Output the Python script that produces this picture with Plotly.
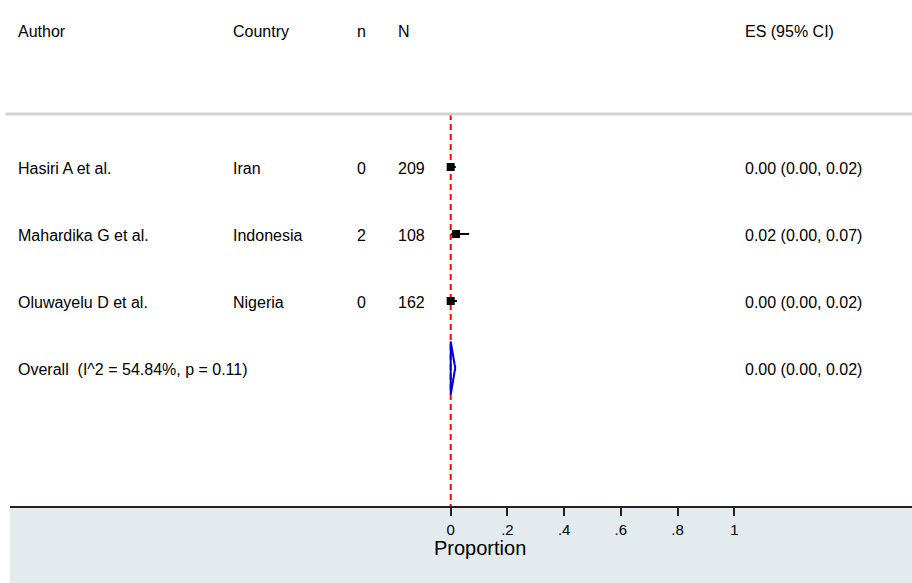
import plotly.graph_objects as go

# ---- data ----
authors = ["Hasiri A et al.", "Mahardika G et al.", "Oluwayelu D et al."]
countries = ["Iran", "Indonesia", "Nigeria"]
n_events = [0, 2, 0]
n_total = [209, 108, 162]
es = [0.0, 0.019, 0.0]
ci_lo = [0.0, 0.002, 0.0]
ci_hi = [0.018, 0.065, 0.022]
overall_label = "Overall\u00a0 (I^2 = 54.84%, p = 0.11)"
overall_es = 0.0
overall_lo = 0.0
overall_hi = 0.016
tick_vals = [0, 0.2, 0.4, 0.6, 0.8, 1]
tick_text = ["0", ".2", ".4", ".6", ".8", "1"]
headers = ["Author", "Country", "n", "N", "ES (95% CI)"]

# ---- layout geometry (pixels) ----
W, H = 912, 583
L, R, T, B = 10, 0, 10, 77
x0_px, x1_px = 450.7, 734.3          # pixel of 0 and 1
ppu = x1_px - x0_px
row0_px, row_step = 167.0, 67.0


def px2x(px):
    return (px - x0_px) / ppu


def py2y(py):
    return (py - row0_px) / row_step


xrange = [px2x(L), px2x(W - R)]
yrange = [py2y(H - B), py2y(T)]

font = "Liberation Sans, Arial, sans-serif"
col_px = [16, 231, 355, 396, 743]
rows = list(range(len(authors)))
overall_row = len(authors)

fig = go.Figure()

# red dashed null line
fig.add_shape(type="line", xref="x", yref="y", x0=0, x1=0,
              y0=py2y(114), y1=py2y(H - B),
              line=dict(color="#ff0000", width=2, dash="6px,4px"), layer="below")

# CI lines
for i in rows:
    fig.add_trace(go.Scatter(x=[ci_lo[i], ci_hi[i]], y=[i, i], mode="lines",
                             line=dict(color="black", width=2),
                             showlegend=False, hoverinfo="skip"))
# point estimates
fig.add_trace(go.Scatter(x=es, y=rows, mode="markers",
                         marker=dict(symbol="square", size=8, color="black"),
                         showlegend=False, hoverinfo="skip"))

# overall diamond
hh = 0.396
fig.add_trace(go.Scatter(
    x=[overall_lo, overall_es, overall_hi, overall_es, overall_lo],
    y=[overall_row, overall_row - hh, overall_row, overall_row + hh, overall_row],
    mode="lines", line=dict(color="#0000cc", width=2),
    showlegend=False, hoverinfo="skip"))

# header separator
fig.add_shape(type="line", xref="paper", yref="y", x0=-0.005, x1=1,
              y0=py2y(114), y1=py2y(114),
              line=dict(color="#d2d2d2", width=3))

# bottom shaded band
fig.add_shape(type="rect", xref="paper", yref="paper", x0=0, x1=1,
              y0=-B / (H - T - B), y1=0, fillcolor="#e3ebee",
              line=dict(width=0), layer="below")

ann = []
# headers
for txt, cx in zip(headers, col_px):
    ann.append(dict(x=px2x(cx), y=py2y(31), text=txt, xref="x", yref="y",
                    xanchor="left", yanchor="middle", showarrow=False,
                    font=dict(family=font, size=16, color="black")))
# rows
for i in rows:
    vals = [authors[i], countries[i], str(n_events[i]), str(n_total[i]),
            f"{es[i]:.2f} ({ci_lo[i]:.2f}, {ci_hi[i]:.2f})"]
    for txt, cx in zip(vals, col_px):
        ann.append(dict(x=px2x(cx), y=i + 0.02, text=txt, xref="x", yref="y",
                        xanchor="left", yanchor="middle", showarrow=False,
                        font=dict(family=font, size=16, color="black")))
# overall row
for txt, cx in [(overall_label, col_px[0]),
                (f"{overall_es:.2f} ({overall_lo:.2f}, {overall_hi:.2f})", col_px[4])]:
    ann.append(dict(x=px2x(cx), y=overall_row + 0.02, text=txt, xref="x", yref="y",
                    xanchor="left", yanchor="middle", showarrow=False,
                    font=dict(family=font, size=16, color="black")))
# axis title
ann.append(dict(x=px2x(480), y=-(548 - (H - B)) / (H - T - B), text="Proportion",
                xref="x", yref="paper", xanchor="center", yanchor="middle",
                showarrow=False, font=dict(family=font, size=20, color="black")))

fig.update_layout(
    width=W, height=H,
    margin=dict(l=L, r=R, t=T, b=B, pad=0),
    paper_bgcolor="white", plot_bgcolor="white",
    annotations=ann,
    xaxis=dict(range=xrange, tickvals=tick_vals, ticktext=tick_text,
               showgrid=False, zeroline=False, showline=True,
               linecolor="#222222", linewidth=2, ticks="outside",
               ticklen=8, tickwidth=1.5, tickcolor="#222222",
               ticklabelstandoff=1,
               tickfont=dict(family=font, size=15, color="black")),
    yaxis=dict(range=yrange, showgrid=False, zeroline=False,
               showticklabels=False, showline=False, ticks=""),
)

fig.write_html("out.html", config={"displayModeBar": False},
               post_script="document.body.style.margin='0';"
                           "document.body.style.overflow='hidden';")
